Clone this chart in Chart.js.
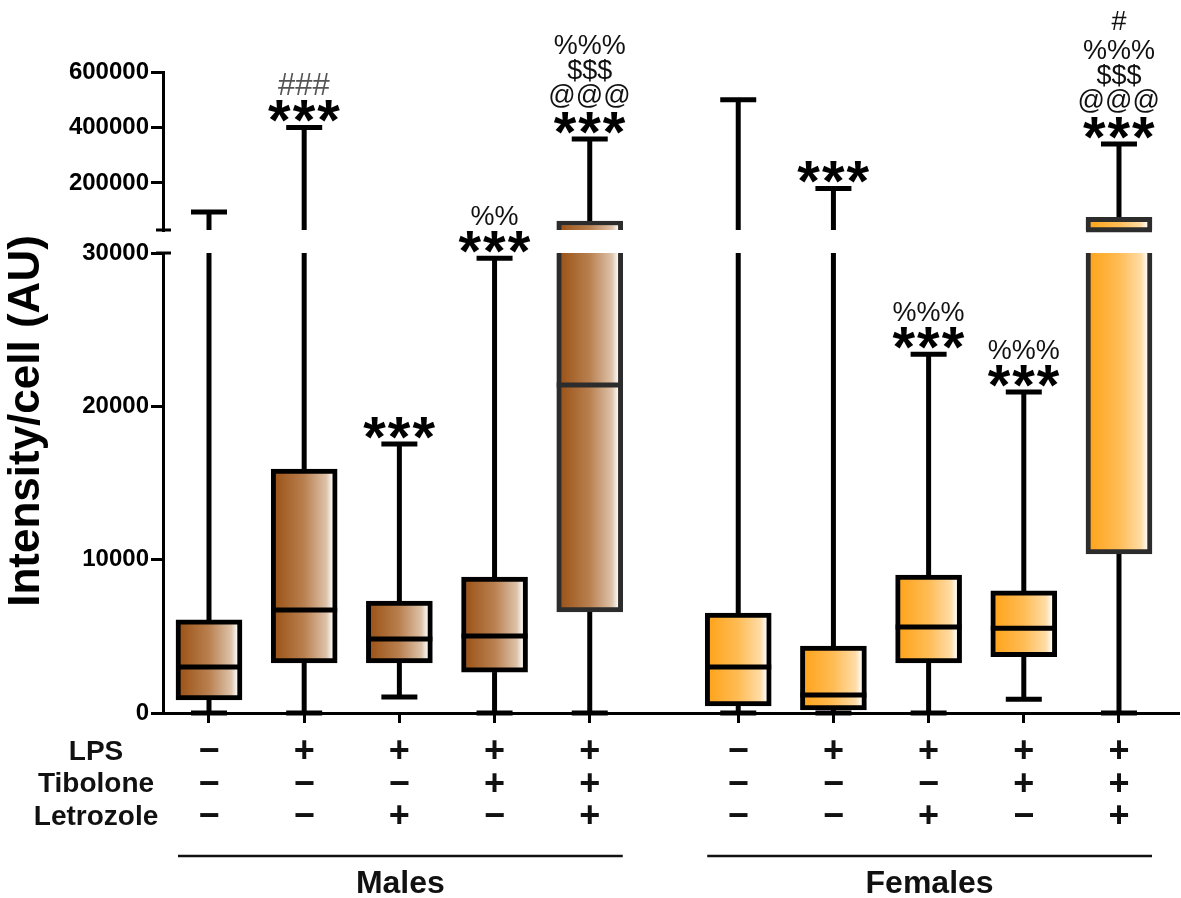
<!DOCTYPE html>
<html>
<head>
<meta charset="utf-8">
<script src="https://cdn.jsdelivr.net/npm/chart.js@4.4.1/dist/chart.umd.min.js"></script>
<style>
html,body{margin:0;padding:0;background:#ffffff;}
#wrap{width:1181px;height:898px;position:relative;}
</style>
</head>
<body>
<div id="wrap"><canvas id="c" width="1181" height="898"></canvas></div>
<script>
// ---------------- data ----------------
const groupNames = ['Males', 'Females'];
const positions = [0, 1, 2, 3, 4, 5.56, 6.56, 7.56, 8.56, 9.56];
const groupOf = [0, 0, 0, 0, 0, 1, 1, 1, 1, 1];
const minVals    = [0, 0, 1040, 0, 0,        0, 0, 0, 900, 0];
const q1Vals     = [850, 3260, 3260, 2670, 6590,   460, 200, 3260, 3680, 10370];
const medianVals = [3000, 6720, 4830, 5020, 21390, 3000, 1170, 5610, 5520, 31000];
const q3Vals     = [6070, 15910, 7300, 8870, 62500, 6520, 4370, 9000, 7960, 76000];
const maxVals    = [95000, 400000, 17540, 29650, 358000, 500000, 180000, 23400, 20930, 340000];
const lpsRow       = ['−', '+', '+', '+', '+', '−', '+', '+', '+', '+'];
const tiboloneRow  = ['−', '−', '−', '+', '+', '−', '−', '−', '+', '+'];
const letrozoleRow = ['−', '−', '+', '−', '+', '−', '−', '+', '−', '+'];
const rowLabels = ['LPS', 'Tibolone', 'Letrozole'];
const annotations = [
  [], ['***', '###'], ['***'], ['***', '%%'], ['***', '@@@', '$$$', '%%%'],
  [], ['***'], ['***', '%%%'], ['***', '%%%'], ['***', '@@@', '$$$', '%%%', '#']
];
const lowerTicks = [0, 10000, 20000, 30000];
const upperTicks = [200000, 400000, 600000];
const breakValue = 30000;
const upperMax = 600000;
const yTitle = 'Intensity/cell (AU)';

// ---------------- styling ----------------
const FONT = '"Liberation Sans", Arial, Helvetica, sans-serif';
const gradStops = [
  [[0, '#9C5418'], [0.5, '#B98050'], [0.88, '#DDC2A9'], [1, '#FFFFFF']],
  [[0, '#FFA41C'], [0.5, '#FFBC55'], [0.88, '#FFDCA6'], [1, '#FFFFFF']]
];
const BOX_W = 66;

function boxGradient(ctx) {
  const fallback = ctx.raw && groupOf[ctx.raw.i] === 1 ? '#FFBC55' : '#B98050';
  if (ctx.type !== 'data' || !ctx.raw) return fallback;
  const chart = ctx.chart;
  const xs = chart.scales.x;
  if (!xs) return fallback;
  const px = xs.getPixelForValue(ctx.raw.x);
  if (!isFinite(px)) return fallback;
  const g = chart.ctx.createLinearGradient(px - BOX_W / 2 + 4, 0, px + BOX_W / 2 - 4, 0);
  for (const [o, c] of gradStops[groupOf[ctx.raw.i]]) g.addColorStop(o, c);
  return g;
}
function boxBorderColor(ctx) {
  if (ctx.type !== 'data' || !ctx.raw) return '#000';
  return (ctx.raw.i % 5 === 4) ? '#2c2c2c' : '#000000';
}

const lowerBoxData = positions.map((x, i) => ({ x: x, y: [q1Vals[i], Math.min(q3Vals[i], breakValue)], i: i }));
const upperBoxData = positions.map((x, i) => ({ x: x, y: [Math.max(q1Vals[i], breakValue), q3Vals[i]], i: i }))
  .filter(d => q3Vals[d.i] > breakValue);

function valuePixel(chart, v) {
  return v <= breakValue ? chart.scales.yBot.getPixelForValue(v) : chart.scales.yTop.getPixelForValue(v);
}
function segments(chart, lo, hi) {
  const out = [];
  const ranges = [[chart.scales.yBot, 0, breakValue], [chart.scales.yTop, breakValue, upperMax]];
  for (const [s, a, b] of ranges) {
    const l = Math.max(lo, a), h = Math.min(hi, b);
    if (h > l) out.push([s.getPixelForValue(l), s.getPixelForValue(h)]);
  }
  return out;
}

const TICK_FONT_SIZE = 36;
const TICK_LINE_H = 32.5;
const X_TICK_LEN = 10;
const X_TICK_PAD = 13;

const extras = {
  id: 'boxExtras',
  beforeDatasetsDraw(chart) {
    const c = chart.ctx, xs = chart.scales.x;
    c.save();
    c.strokeStyle = '#000';
    c.lineCap = 'butt';
    positions.forEach((p, i) => {
      const px = xs.getPixelForValue(p);
      c.lineWidth = 5;
      const segs = segments(chart, q3Vals[i], maxVals[i]).concat(segments(chart, minVals[i], q1Vals[i]));
      for (const [a, b] of segs) {
        c.beginPath(); c.moveTo(px, a); c.lineTo(px, b); c.stroke();
      }
      c.lineWidth = 5;
      for (const v of [maxVals[i], minVals[i]]) {
        const y = valuePixel(chart, v);
        c.beginPath(); c.moveTo(px - 18, y); c.lineTo(px + 18, y); c.stroke();
      }
    });
    c.restore();
  },
  afterDatasetsDraw(chart) {
    const c = chart.ctx, xs = chart.scales.x;
    c.save();
    positions.forEach((p, i) => {
      const px = xs.getPixelForValue(p);
      const y = valuePixel(chart, medianVals[i]);
      c.strokeStyle = (i % 5 === 4) ? '#2c2c2c' : '#000';
      c.lineWidth = 5;
      c.beginPath(); c.moveTo(px - BOX_W / 2, y); c.lineTo(px + BOX_W / 2, y); c.stroke();
    });
    c.restore();
  },
  afterDraw(chart) {
    const c = chart.ctx, xs = chart.scales.x, area = chart.chartArea;
    const yb = chart.scales.yBot, yt = chart.scales.yTop;
    c.save();
    // axis break caps
    c.strokeStyle = '#000'; c.lineWidth = 3;
    const ax = yb.right;
    c.beginPath(); c.moveTo(ax - 7, yb.getPixelForValue(breakValue)); c.lineTo(ax + 8, yb.getPixelForValue(breakValue)); c.stroke();
    c.beginPath(); c.moveTo(ax - 7, yt.getPixelForValue(breakValue)); c.lineTo(ax + 8, yt.getPixelForValue(breakValue)); c.stroke();

    // significance annotations
    const offsets = [16, 43, 69, 95, 124];
    positions.forEach((p, i) => {
      const px = xs.getPixelForValue(p);
      const capY = valuePixel(chart, maxVals[i]);
      annotations[i].forEach((t, k) => {
        c.letterSpacing = '0px';
        if (t === '***') { c.font = 'bold 58px ' + FONT; c.fillStyle = '#000'; c.letterSpacing = '2px'; }
        else if (t === '###') { c.font = '31px ' + FONT; c.fillStyle = '#555'; }
        else { c.font = '27px ' + FONT; c.fillStyle = '#111'; }
        c.textAlign = 'left'; c.textBaseline = 'alphabetic';
        const m = c.measureText(t);
        const inkMid = (m.actualBoundingBoxAscent - m.actualBoundingBoxDescent) / 2;
        const x = px - (m.actualBoundingBoxRight - m.actualBoundingBoxLeft) / 2;
        c.fillText(t, x, capY - offsets[k] + inkMid);
      });
    });
    c.letterSpacing = '0px';

    // y title
    c.save();
    c.translate(27, 421);
    c.rotate(-Math.PI / 2);
    c.font = 'bold 44px ' + FONT; c.fillStyle = '#000';
    c.textAlign = 'center'; c.textBaseline = 'middle';
    c.fillText(yTitle, 0, 0);
    c.restore();

    // row labels
    c.font = 'bold 28px ' + FONT; c.fillStyle = '#111';
    c.textAlign = 'center'; c.textBaseline = 'middle';
    rowLabels.forEach((t, r) => {
      const y = area.bottom + X_TICK_LEN + X_TICK_PAD + TICK_LINE_H * (r + 0.5);
      c.fillText(t, 96, y);
    });

    // group lines and names
    groupNames.forEach((g, gi) => {
      const idx = positions.map((p, i) => i).filter(i => groupOf[i] === gi);
      const x0 = xs.getPixelForValue(positions[idx[0]]) - 31;
      const x1 = xs.getPixelForValue(positions[idx[idx.length - 1]]) + 33;
      const ly = area.bottom + 143;
      c.strokeStyle = '#111'; c.lineWidth = 2.5;
      c.beginPath(); c.moveTo(x0, ly); c.lineTo(x1, ly); c.stroke();
      c.font = 'bold 32px ' + FONT; c.fillStyle = '#111';
      c.textAlign = 'center'; c.textBaseline = 'middle';
      c.fillText(g, (x0 + x1) / 2, area.bottom + 171);
    });
    c.restore();
  }
};

const yCommon = {
  type: 'linear', position: 'left', stack: 'yaxes',
  grid: { drawOnChartArea: false, drawTicks: true, tickLength: 12, color: '#000', lineWidth: 3 },
  border: { display: true, color: '#000', width: 3 },
  ticks: { color: '#000', font: { family: FONT, size: 24, weight: 'bold' }, padding: 2, autoSkip: false,
           callback: v => String(v) },
  afterFit: s => { s.width = 163; }
};

new Chart(document.getElementById('c'), {
  type: 'bar',
  data: {
    datasets: [
      { data: lowerBoxData, yAxisID: 'yBot', backgroundColor: boxGradient, borderColor: boxBorderColor,
        borderWidth: 5, borderSkipped: ctx => (ctx.raw && q3Vals[ctx.raw.i] > breakValue) ? 'top' : false,
        barThickness: BOX_W, grouped: false },
      { data: upperBoxData, yAxisID: 'yTop', backgroundColor: boxGradient, borderColor: boxBorderColor,
        borderWidth: 5, borderSkipped: 'bottom', barThickness: BOX_W, grouped: false }
    ]
  },
  options: {
    responsive: false,
    animation: false,
    devicePixelRatio: 1,
    layout: { padding: { top: 72, right: 3, bottom: 0, left: 0 } },
    plugins: { legend: { display: false }, tooltip: { enabled: false } },
    scales: {
      x: {
        type: 'linear', position: 'bottom', min: -0.4832, max: 10.18, offset: false,
        grid: { offset: false, drawOnChartArea: false, drawTicks: true, tickLength: X_TICK_LEN, color: '#000', lineWidth: 3 },
        border: { display: true, color: '#000', width: 3 },
        afterBuildTicks: s => { s.ticks = positions.map(v => ({ value: v })); },
        ticks: {
          autoSkip: false, maxRotation: 0, minRotation: 0, padding: X_TICK_PAD, color: '#111',
          font: { family: FONT, size: TICK_FONT_SIZE, weight: 'bold', lineHeight: TICK_LINE_H / TICK_FONT_SIZE },
          callback: (v, i) => [lpsRow[i], tiboloneRow[i], letrozoleRow[i]]
        },
        afterFit: s => { s.height = 185; }
      },
      yTop: Object.assign({}, yCommon, {
        min: breakValue, max: upperMax, stackWeight: 158, weight: 3,
        afterBuildTicks: s => { s.ticks = upperTicks.map(v => ({ value: v })); }
      }),
      yGap: { type: 'linear', position: 'left', stack: 'yaxes', stackWeight: 23, weight: 2, display: false,
              min: 0, max: 1, afterFit: s => { s.width = 163; } },
      yBot: Object.assign({}, yCommon, {
        min: 0, max: breakValue, stackWeight: 460, weight: 1,
        afterBuildTicks: s => { s.ticks = lowerTicks.map(v => ({ value: v })); }
      })
    }
  },
  plugins: [extras]
});
</script>
</body>
</html>
